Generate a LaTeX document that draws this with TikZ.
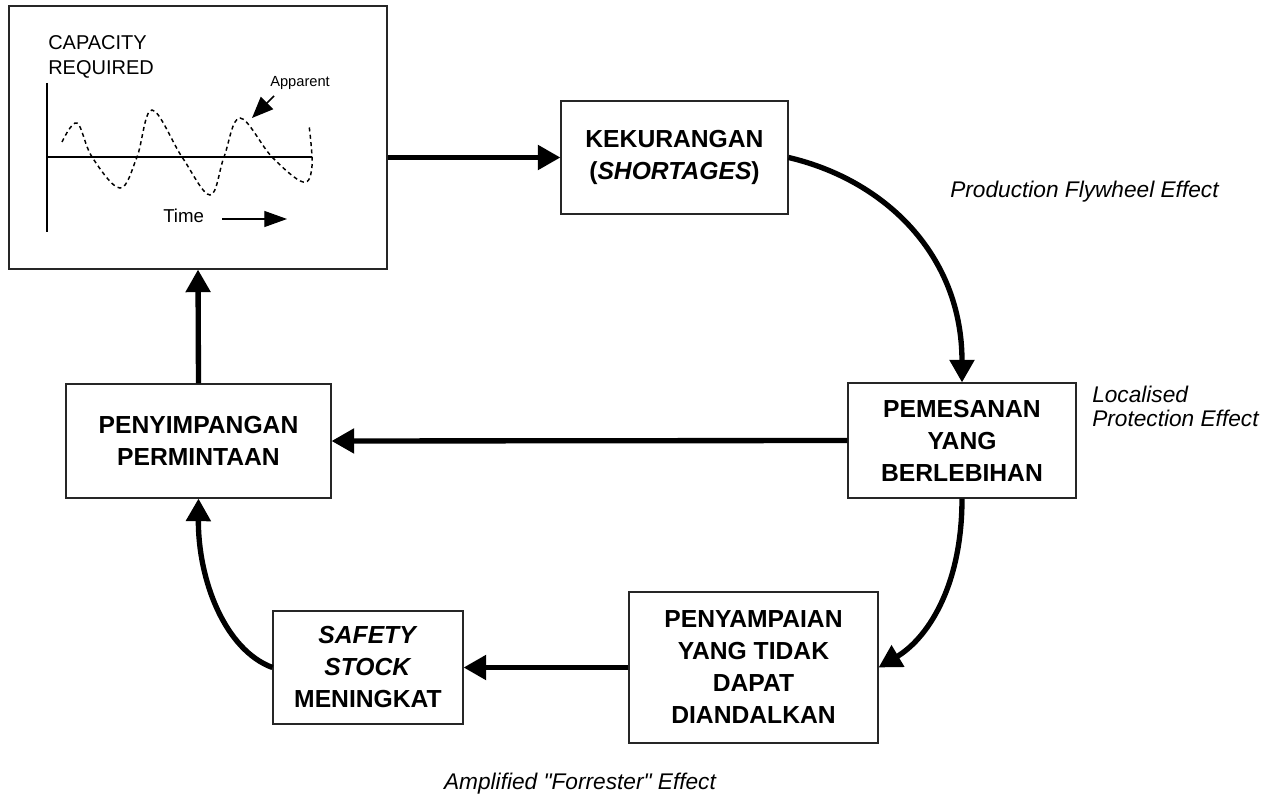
\documentclass[tikz,border=0pt]{standalone}
\usepackage{fontspec}
\setmainfont{Liberation Sans}
\newfontfamily\plainsansfont{Liberation Sans}
\usetikzlibrary{arrows.meta}
\begin{document}
\begin{tikzpicture}[x=0.75pt,y=-0.75pt,
  box/.style={draw=black!85, line width=0.8pt, fill=white, align=center, inner sep=0pt,
    font=\fontsize{18.5}{24}\selectfont\bfseries},
  flow/.style={line width=4pt, -{Triangle[length=17pt,width=18pt]}},
  lbl/.style={font=\fontsize{17}{18}\selectfont\itshape, inner sep=0pt},
  chartlbl/.style={font=\fontsize{15}{18}\selectfont, inner sep=0pt, anchor=base west},
  wave/.style={line width=1.1pt, dash pattern=on 3pt off 2.5pt},
]
\useasboundingbox (0,0) rectangle (1264,795);

% boxes
\node[box, minimum width=283.5pt, minimum height=197.25pt] (chart) at (198,137.5) {};
\node[box, minimum width=170.25pt, minimum height=84.75pt] (kek) at (674.5,157.5) {KEKURANGAN\\(\textit{SHORTAGES})};
\node[box, minimum width=171pt, minimum height=86.25pt] (pem) at (962,440.5) {PEMESANAN\\YANG\\BERLEBIHAN};
\node[box, minimum width=198.75pt, minimum height=85.5pt] (peny) at (198.5,441) {PENYIMPANGAN\\PERMINTAAN};
\node[box, minimum width=186.75pt, minimum height=113.25pt] (penyam) at (753.5,667.5) {PENYAMPAIAN\\YANG TIDAK\\DAPAT\\DIANDALKAN};
\node[box, minimum width=142.5pt, minimum height=84.75pt] (safe) at (368,667.5) {\textit{SAFETY}\\\textit{STOCK}\\MENINGKAT};

% chart contents
\draw[line width=1.1pt] (47,83) -- (47,232);
\draw[line width=0.8pt] (47,157) -- (312,157);
\draw[line width=2pt] (252,157) -- (312,157);
\draw[wave] plot[smooth, tension=0.6] coordinates {(62,142) (77,123) (92,157) (120,188) (137,157) (152,110) (182,157) (210,195) (224,157) (240,118) (272,157) (303,182) (312,166) (309,125)};
\node[chartlbl] (cap1) at (48,50) {CAPACITY};
\node[chartlbl] (cap2) at (48,75) {REQUIRED};
\node[chartlbl, font=\fontsize{11}{13}\selectfont] (app) at (270,87) {Apparent};
\coordinate (apptail) at (274,96);
\coordinate (apptip) at (252,118);
\draw[line width=1.2pt, -{Triangle[length=16pt,width=13pt]}] (apptail) -- (apptip);
\node[chartlbl, font=\fontsize{14}{16}\selectfont] (time) at (163,223) {Time};
\coordinate (t1) at (222,219);
\coordinate (t2) at (287,219);
\draw[line width=0.9pt, -{Triangle[length=17pt,width=12pt]}] (t1) -- (t2);

% connectors
\draw[flow] (chart.east |- kek.west) -- (kek.west);
\draw[flow] (kek.east) .. controls (885,180) and (962,255) .. (pem.north);
\draw[flow] (pem.west) -- (peny.east);
\draw[flow] (pem.south) .. controls (962,590) and (925,640) .. (penyam.east);
\draw[flow] (penyam.west) -- (safe.east);
\draw[flow] (safe.west) .. controls (225,650) and (198,580) .. (peny.south);
\draw[flow] (peny.north) -- (chart.south);

% effect labels
\node[lbl, anchor=base west] (fly) at (950,198) {Production Flywheel Effect};
\node[lbl, anchor=base west] (loc1) at (1092,402) {Localised};
\node[lbl, anchor=base west] (loc2) at (1092,426) {Protection Effect};
\node[lbl, anchor=base] (forr) at (580,789) {Amplified {\plainsansfont\itshape"}Forrester{\plainsansfont\itshape"} Effect};
\end{tikzpicture}
\end{document}
